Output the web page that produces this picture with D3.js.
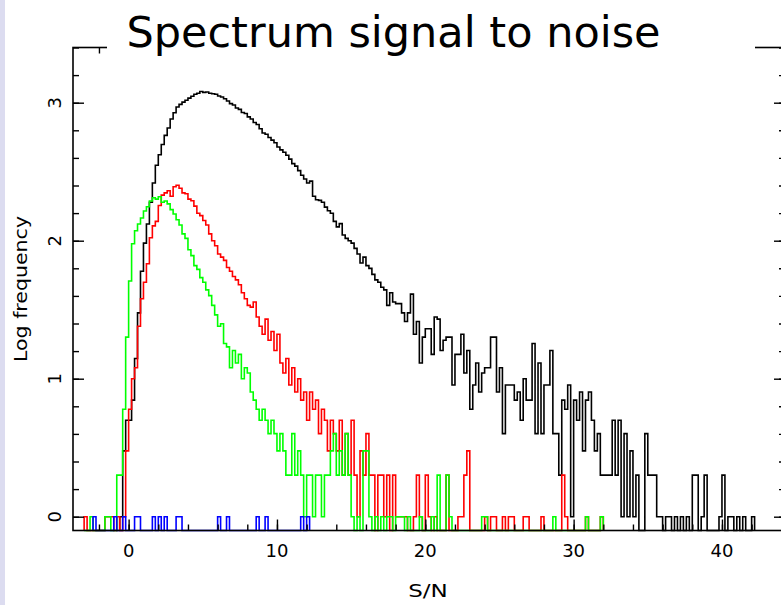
<!DOCTYPE html>
<html>
<head>
<meta charset="utf-8">
<script src="https://cdn.jsdelivr.net/npm/d3@7"></script>
<style>
  body { margin: 0; background: #fff; }
  svg { display: block; }
</style>
</head>
<body>
<script>
// Histograms of S/N, bins 0.2 wide, counts per bin (0 = empty bin)
const binWidth = 0.2;

const blackStart = -0.6;
const blackCounts = [
  1, 3, 5, 5, 7, 14, 30, 60, 96, 132,
  190, 262, 352, 420, 498, 580, 655, 762, 846, 930,
  972, 1010, 1041, 1080, 1115, 1152, 1170, 1205, 1188, 1196,
  1172, 1160, 1150, 1118, 1101, 1068, 1030, 985, 962, 915,
  895, 850, 835, 790, 762, 718, 695, 648, 603, 590,
  560, 536, 512, 478, 455, 437, 416, 390, 362, 347,
  322, 298, 280, 262, 270, 210, 198, 196, 190, 175,
  165, 158, 138, 126, 133, 110, 104, 100, 96, 88,
  80, 69, 76, 66, 63, 57, 52, 50, 46, 44,
  34, 42, 36, 35, 35, 30, 26, 30, 41, 21,
  26, 13, 20, 23, 23, 15, 28, 27, 16, 19,
  20, 20, 9, 15, 15, 21, 11, 16, 6, 9,
  13, 8, 11, 12, 12, 20, 20, 8, 12, 4,
  9, 9, 9, 7, 8, 5, 10, 7, 7, 18,
  4, 13, 4, 9, 9, 16, 4, 4, 2, 7,
  6, 9, 1, 7, 5, 8, 3, 7, 8, 5,
  3, 4, 2, 2, 2, 2, 5, 2, 5, 1,
  4, 1, 3, 1, 2, 0, 0, 4, 2, 2,
  2, 1, 1, 0, 1, 1, 0, 1, 0, 1,
  0, 1, 0, 2, 2, 0, 1, 2, 0, 0,
  0, 0, 1, 2, 0, 1, 1, 0, 1, 0,
  1, 0, 0, 1
];

const redStart = -3.0;
const redCounts = [
  1, 0, 0, 0, 0, 0, 0, 1, 1, 1,
  0, 1, 0, 1, 3, 6, 10, 12, 24, 38,
  50, 68, 105, 128, 138, 180, 214, 222, 230, 210,
  246, 252, 240, 222, 219, 200, 195, 178, 158, 152,
  140, 130, 112, 100, 92, 80, 76, 72, 64, 60,
  55, 52, 48, 42, 38, 34, 33, 36, 28, 24,
  21, 27, 19, 22, 16, 21, 13, 11, 14, 9,
  12, 8, 10, 7, 8, 5, 8, 6, 7, 4,
  6, 5, 3, 5, 4, 3, 5, 2, 4, 2,
  5, 2, 1, 3, 2, 4, 2, 2, 0, 2,
  2, 1, 2, 0, 2, 1, 1, 1, 1, 0,
  0, 1, 2, 1, 0, 2, 1, 0, 1, 0,
  0, 0, 2, 0, 0, 0, 1, 1, 2, 3,
  0, 0, 0, 0, 0, 1, 0, 1, 1, 0,
  0, 1, 0, 1, 1, 0, 0, 0, 1, 1,
  0, 0, 0, 0, 1, 0, 0, 0, 0, 0,
  0, 2, 1, 0, 0, 0, 0, 0, 0, 1,
  0, 0, 0, 0, 1
];

const greenStart = -3.0;
const greenCounts = [
  0, 0, 1, 0, 0, 0, 0, 1, 1, 0,
  0, 2, 2, 6, 20, 51, 95, 118, 132, 146,
  164, 176, 194, 205, 200, 208, 190, 194, 185, 168,
  156, 142, 130, 112, 104, 86, 78, 66, 62, 54,
  50, 44, 40, 34, 29, 24, 25, 18, 17, 12,
  16, 13, 15, 10, 12, 11, 8, 7, 6, 5,
  6, 5, 4, 5, 4, 3, 4, 3, 2, 2,
  4, 2, 3, 2, 1, 2, 2, 1, 2, 2,
  1, 2, 2, 3, 4, 2, 3, 2, 4, 2,
  1, 0, 1, 0, 3, 3, 1, 0, 1, 0,
  1, 0, 1, 1, 0, 1, 1, 1, 0, 1,
  0, 0, 0, 1, 0, 0, 0, 1, 0, 2,
  0, 0, 2, 1, 0, 0, 0, 0, 0, 0,
  0, 0, 0, 0, 1, 1, 0, 0, 0, 0,
  0, 0, 0, 0, 0, 0, 0, 0, 0, 0,
  0, 0, 0, 0, 0, 0, 0, 0, 1, 0,
  0, 0, 0, 0, 0, 0, 0, 0, 0, 1,
  0, 0, 0, 0, 1
];

const blueStart = -2.4;
const blueCounts = [
  1, 0, 0, 0, 0, 0, 0, 1, 0, 0,
  1, 0, 0, 0, 1, 1, 0, 0, 0, 0,
  1, 0, 1, 0, 1, 0, 0, 0, 1, 1,
  0, 0, 0, 0, 0, 0, 0, 0, 0, 0,
  0, 0, 1, 0, 0, 1, 0, 0, 0, 0,
  0, 0, 0, 0, 0, 1, 0, 0, 1, 0,
  0, 0, 0, 0, 0, 0, 0, 0, 0, 0,
  1, 0, 1
];

const xMajorTicks = [0, 10, 20, 30, 40];
const yMajorTicks = [0, 1, 2, 3];

document.addEventListener("DOMContentLoaded", function() {
    const width = 781;
    const height = 605;

    const svg = d3.select("body").append("svg")
        .attr("width", width)
        .attr("height", height);

    // lavender strip on the left edge
    svg.append("rect")
        .attr("width", 5)
        .attr("height", height)
        .attr("fill", "#dcdcf0");

    const yMin = -0.1;
    const x = d3.scaleLinear().domain([-3.75, 44.25]).range([73, 785]);
    const y = d3.scaleLinear().domain([yMin, 3.4]).range([530.5, 47.5]);

    const xMinor = d3.range(-2, 45, 2);
    const yMinor = d3.range(0, 18).map(i => +(i * 0.2).toFixed(1));

    // histograms as step lines (drawn first so the frame sits on top)
    const line = d3.line()
        .x(d => x(d[0]))
        .y(d => y(d[1]))
        .curve(d3.curveStepAfter);

    function stepPoints(start, counts) {
        const pts = [[start, yMin]];
        counts.forEach((c, i) => pts.push([start + i * binWidth, c > 0 ? Math.log10(c) : yMin]));
        pts.push([start + counts.length * binWidth, yMin]);
        return pts;
    }

    const series = [
        { start: blackStart, counts: blackCounts, color: "#000000" },
        { start: redStart, counts: redCounts, color: "#ff0000" },
        { start: greenStart, counts: greenCounts, color: "#00ff00" },
        { start: blueStart, counts: blueCounts, color: "#0000ff" }
    ];

    series.forEach(s => {
        svg.append("path")
            .attr("d", line(stepPoints(s.start, s.counts)))
            .attr("fill", "none")
            .attr("stroke", s.color)
            .attr("stroke-width", 1.6);
    });

    const bottom = y.range()[0], top = y.range()[1];
    const left = x.range()[0], right = x.range()[1];

    // frame
    svg.append("rect")
        .attr("x", left).attr("y", top)
        .attr("width", right - left)
        .attr("height", bottom - top)
        .attr("fill", "none").attr("stroke", "black").attr("stroke-width", 1.6);

    function ticks(axis, pos, values, size) {
        const g = svg.append("g")
            .attr("transform", pos)
            .call(axis.tickValues(values).tickSize(size).tickFormat(""));
        g.select(".domain").remove();
        g.selectAll("line").attr("stroke", "black").attr("stroke-width", 1.4);
        return g;
    }
    ticks(d3.axisBottom(x), `translate(0,${bottom})`, xMinor, -6);
    ticks(d3.axisBottom(x), `translate(0,${bottom})`, xMajorTicks, -11);
    ticks(d3.axisTop(x), `translate(0,${top})`, xMinor, -6);
    ticks(d3.axisTop(x), `translate(0,${top})`, xMajorTicks, -11);
    ticks(d3.axisLeft(y), `translate(${left},0)`, yMinor, -6);
    ticks(d3.axisLeft(y), `translate(${left},0)`, yMajorTicks, -11);
    ticks(d3.axisRight(y), `translate(${right},0)`, yMinor, -6);
    ticks(d3.axisRight(y), `translate(${right},0)`, yMajorTicks, -11);

    // tick labels
    svg.append("g").selectAll("text")
        .data(xMajorTicks).join("text")
        .attr("x", d => x(d))
        .attr("y", 557)
        .attr("text-anchor", "middle")
        .attr("font-family", "DejaVu Sans")
        .attr("font-size", 18)
        .text(d => d);

    svg.append("g").selectAll("text")
        .data(yMajorTicks).join("text")
        .attr("transform", d => `translate(61,${y(d)}) rotate(-90)`)
        .attr("text-anchor", "middle")
        .attr("font-family", "DejaVu Sans")
        .attr("font-size", 18)
        .text(d => d);

    // axis titles (stretched a little to match the wider plotting font)
    svg.append("text")
        .attr("transform", "translate(428,597) scale(1.28,1)")
        .attr("text-anchor", "middle")
        .attr("font-family", "DejaVu Sans")
        .attr("font-size", 18)
        .text("S/N");

    svg.append("text")
        .attr("transform", "translate(27,289) rotate(-90) scale(1.14,1)")
        .attr("text-anchor", "middle")
        .attr("font-family", "DejaVu Sans")
        .attr("font-size", 18)
        .text("Log frequency");

    // title on a white box that hides the top axis
    svg.append("rect")
        .attr("x", 107).attr("y", 0)
        .attr("width", 648).attr("height", 62)
        .attr("fill", "white");

    svg.append("text")
        .attr("x", 393.5).attr("y", 47)
        .attr("text-anchor", "middle")
        .attr("font-family", "DejaVu Sans")
        .attr("font-size", 43)
        .text("Spectrum signal to noise");
});
</script>
</body>
</html>
